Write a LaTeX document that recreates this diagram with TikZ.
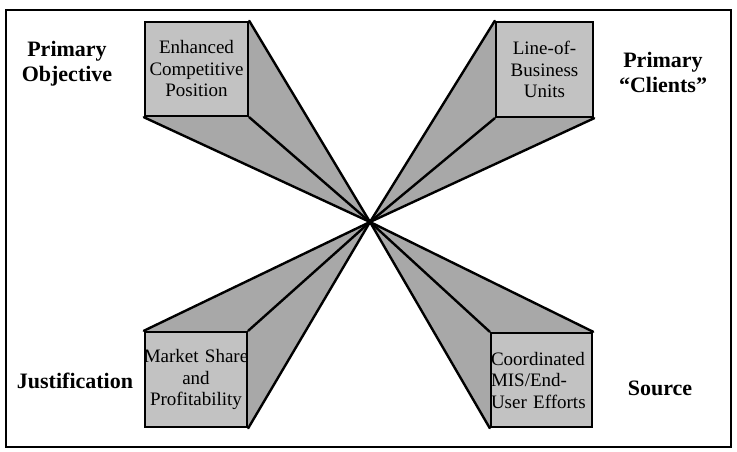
\documentclass[tikz,border=0pt]{standalone}
\usepackage{fontspec}
\setmainfont{Liberation Serif}
\usetikzlibrary{backgrounds}
\begin{document}
\begin{tikzpicture}[x=1pt,y=-1pt,
  face/.style={fill=black!34},
  front/.style={draw=black,line width=2.4pt,fill=black!24,inner sep=0pt,
    font=\fontsize{19}{21.5}\selectfont},
  ray/.style={line width=2.4pt,line cap=round,line join=round},
  lab/.style={font=\fontsize{22}{25}\selectfont\bfseries,align=center}]
\useasboundingbox (0,0) rectangle (737,452);
\draw[line width=1.8pt] (6,10) rectangle (731,447);
\coordinate (c) at (370,222);
% front faces
\node[front,text width=103pt,minimum height=94pt,align=center] (b1) at (196.5,69) {Enhanced\\Competitive\\Position};
\node[front,text width=97pt,minimum height=95pt,align=center] (b2) at (544.5,69.5) {Line-of-\\Business\\Units};
\node[front,text width=102pt,minimum height=95pt,align=center] (b3) at (196,379.5) {\makebox[0pt][c]{Market Share}\\and\\Profitability};
\node[front,text width=101pt,minimum height=94pt,align=left] (b4) at (541.5,380) {Coordinated\\MIS/End-\\User Efforts};
% side faces and rays
\begin{scope}[on background layer]
\fill[face] (b1.north east) -- (c) -- (b1.south west) -- (b1.south east) -- cycle;
\fill[face] (b2.north west) -- (c) -- (b2.south east) -- (b2.south west) -- cycle;
\fill[face] (b3.north west) -- (c) -- (b3.south east) -- (b3.north east) -- cycle;
\fill[face] (b4.north east) -- (c) -- (b4.south west) -- (b4.north west) -- cycle;
\draw[ray] (b1.north east) -- (c);
\draw[ray] (b1.south east) -- (c);
\draw[ray] (b1.south west) -- (c);
\draw[ray] (b2.north west) -- (c);
\draw[ray] (b2.south west) -- (c);
\draw[ray] (b2.south east) -- (c);
\draw[ray] (b3.north west) -- (c);
\draw[ray] (b3.north east) -- (c);
\draw[ray] (b3.south east) -- (c);
\draw[ray] (b4.north east) -- (c);
\draw[ray] (b4.north west) -- (c);
\draw[ray] (b4.south west) -- (c);
\end{scope}
\fill (c) circle (3pt);
% labels
\node[lab] (l1) at (67,64) {Primary\\Objective};
\node[lab] (l2) at (663,72) {Primary\\``Clients''};
\node[lab] (l3) at (75,381) {Justification};
\node[lab] (l4) at (660,388) {Source};
\end{tikzpicture}
\end{document}
